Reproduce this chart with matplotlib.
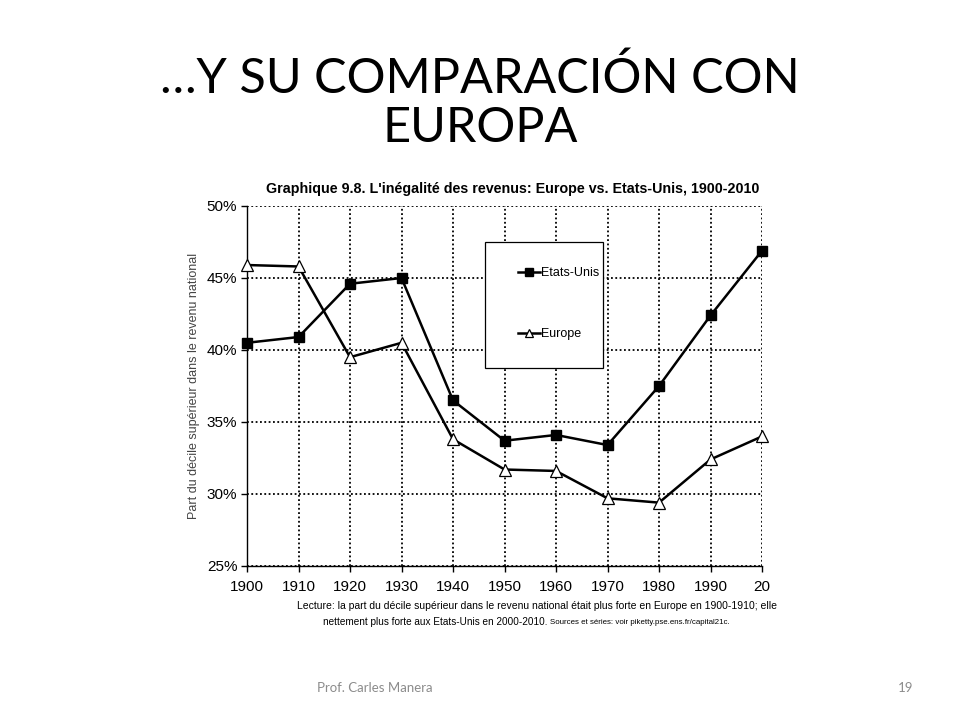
import matplotlib
matplotlib.use("Agg")
import matplotlib.pyplot as plt
from matplotlib.ticker import FixedLocator
from matplotlib.patches import Rectangle

years = [1900, 1910, 1920, 1930, 1940, 1950, 1960, 1970, 1980, 1990, 2000]
usa = [40.5, 40.9, 44.6, 45.0, 36.5, 33.7, 34.1, 33.4, 37.5, 42.4, 46.9]
europe = [45.9, 45.8, 39.5, 40.5, 33.8, 31.7, 31.6, 29.7, 29.4, 32.4, 34.0]
x_tick_labels = ["1900", "1910", "1920", "1930", "1940", "1950", "1960",
                 "1970", "1980", "1990", "20"]
y_ticks = [25, 30, 35, 40, 45, 50]
y_tick_labels = ["25%", "30%", "35%", "40%", "45%", "50%"]

slide_title = "…Y SU COMPARACIÓN CON\nEUROPA"
chart_title = "Graphique 9.8. L'inégalité des revenus: Europe vs. Etats-Unis, 1900-2010"
y_label = "Part du décile supérieur dans le revenu national"
note1 = "Lecture: la part du décile supérieur dans le revenu national était plus forte en Europe en 1900-1910; elle"
note2a = "nettement plus forte aux Etats-Unis en 2000-2010. "
note2b = "Sources et séries: voir piketty.pse.ens.fr/capital21c."
footer = "Prof. Carles Manera"
page = "19"

fig = plt.figure(figsize=(9.6, 7.2), dpi=100)
fig.patch.set_facecolor("white")

fig.text(0.5, 0.857, slide_title, ha="center", va="center", fontsize=35,
         family=["Lato", "DejaVu Sans"], linespacing=1.14, color="black")

ax = fig.add_axes([0.2573, 0.2139, 0.5365, 0.5])
ax.plot(years, usa, color="black", lw=1.8, marker="s", markersize=7,
        markerfacecolor="black", markeredgecolor="black", label="Etats-Unis",
        clip_on=False, zorder=4)
ax.plot(years, europe, color="black", lw=1.8, marker="^", markersize=8,
        markerfacecolor="white", markeredgecolor="black", markeredgewidth=0.9,
        label="Europe", clip_on=False, zorder=4)

ax.set_xlim(1900, 2000)
ax.set_ylim(25, 50)
ax.xaxis.set_major_locator(FixedLocator(years))
ax.set_xticklabels(x_tick_labels, family="Liberation Sans", fontsize=11)
ax.yaxis.set_major_locator(FixedLocator(y_ticks))
ax.set_yticklabels(y_tick_labels, family="Liberation Sans", fontsize=11)
ax.tick_params(axis="x", direction="out", length=4, width=1, pad=6, color="black")
ax.tick_params(axis="y", direction="out", length=4, width=1, pad=3, color="black")
ax.grid(True, color="black", linestyle=(0, (1.0, 1.4)), linewidth=1.3)
ax.set_axisbelow(True)
for s in ["top", "right"]:
    ax.spines[s].set_visible(False)
for s in ["left", "bottom"]:
    ax.spines[s].set_linewidth(1.0)

ax.set_ylabel(y_label, family="Liberation Sans", fontsize=9, color="#444444", labelpad=5)

ax.set_title(chart_title, family="Liberation Sans", fontweight="bold", fontsize=10.3,
             pad=9, x=0.515)

box = Rectangle((0.462, 0.55), 0.229, 0.35, transform=ax.transAxes,
                facecolor="white", edgecolor="black", linewidth=0.9, zorder=5)
ax.add_patch(box)
leg = ax.legend(loc="upper left", bbox_to_anchor=(0.527, 0.83),
                prop={"family": "Liberation Sans", "size": 9},
                frameon=False, handlelength=1.7, handletextpad=0.1,
                labelspacing=3.9, borderpad=0, borderaxespad=0, markerscale=0.8)
leg.set_zorder(6)

fig.text(0.8095, 0.158, note1, ha="right", va="center", fontsize=7.5,
         family="Liberation Sans")
t2 = fig.text(0.336, 0.136, note2a, ha="left", va="center", fontsize=7.2,
              family="Liberation Sans")
fig.canvas.draw()
bb = t2.get_window_extent()
fig.text(bb.x1 / fig.bbox.width, 0.136, note2b, ha="left", va="center", fontsize=5.7,
         family="Liberation Sans")

fig.text(0.39, 0.045, footer, ha="center", va="center", fontsize=9.5,
         family=["Lato", "DejaVu Sans"], color="#8c8c8c")
fig.text(0.943, 0.045, page, ha="center", va="center", fontsize=9.5,
         family=["Lato", "DejaVu Sans"], color="#8c8c8c")

fig.savefig("out.png", dpi=100, facecolor="white")
